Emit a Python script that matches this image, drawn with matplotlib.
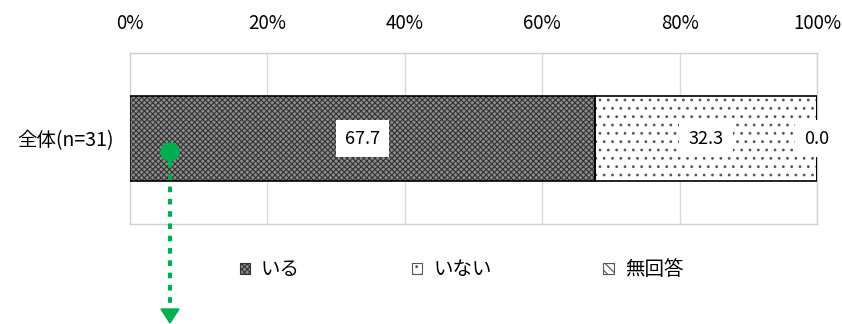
import matplotlib.pyplot as plt
from matplotlib.patches import Patch, Circle, Polygon
from matplotlib.lines import Line2D

# =========================
# DATA
# =========================

category = "全体(n=31)"
labels = ["いる", "いない", "無回答"]
values = [67.7, 32.3, 0.0]
xticks = [0, 20, 40, 60, 80, 100]

plt.rcParams["font.family"] = ["Noto Sans CJK JP", "DejaVu Sans"]
plt.rcParams["font.size"] = 13

# styles per series: (face, hatch, hatch colour)
styles = [
    ("#8c8c8c", "xxxxxx", "#333333"),
    ("white", "..", "#555555"),
    ("white", "\\\\\\\\", "#555555"),
]

# =========================
# FIGURE
# =========================

fig = plt.figure(figsize=(8.42, 3.24), dpi=100)
ax = fig.add_axes([130 / 842, 1 - 224 / 324, 687 / 842, 171 / 324])

ax.set_xlim(0, 100)
ax.set_ylim(-1, 1)

for x in xticks[1:-1]:
    ax.axvline(x, color="#d9d9d9", lw=1, zorder=0)

for s in ax.spines.values():
    s.set_color("#d0d0d0")
    s.set_linewidth(1)

# =========================
# STACKED BAR
# =========================

plt.rcParams["hatch.linewidth"] = 0.8
left = 0
for lab, val, (fc, hatch, hc) in zip(labels, values, styles):
    ax.barh(0, val, left=left, height=1.0, color=fc, hatch=hatch,
            edgecolor=hc, linewidth=0, zorder=2)
    ax.barh(0, val, left=left, height=1.0, fill=False,
            edgecolor="black", linewidth=1.2, zorder=3)
    ax.text(left + val / 2, 0, f"{val:.1f}", ha="center", va="center",
            fontsize=13, zorder=5,
            bbox=dict(boxstyle="square,pad=0.5", fc="white", ec="none"))
    left += val

# =========================
# AXES
# =========================

ax.xaxis.tick_top()
ax.set_xticks(xticks)
ax.set_xticklabels([f"{t}%" for t in xticks])
ax.tick_params(axis="x", length=0, pad=14, labelsize=13.5)
ax.set_yticks([0])
ax.set_yticklabels([category])
ax.tick_params(axis="y", length=0, pad=12, labelsize=14)

# =========================
# LEGEND
# =========================

handles = [Patch(facecolor=fc, hatch=h, edgecolor=hc, linewidth=0.8)
           for fc, h, hc in styles]
fig.legend(handles, labels, loc="center", bbox_to_anchor=(0.548, 0.167),
           ncol=3, frameon=False, handlelength=0.55, handleheight=0.55,
           handletextpad=0.55, columnspacing=5.75, fontsize=14)

# =========================
# GREEN ARROW
# =========================

green = "#00B050"
fx = 170 / 842
fig.add_artist(Line2D([fx, fx], [1 - 162 / 324, 1 - 309 / 324],
                      transform=fig.transFigure, color=green, lw=3,
                      linestyle=(0, (1.35, 1.6)), solid_capstyle="butt"))
fig.add_artist(Circle((170, 324 - 152), 9, transform=None,
                      color=green, zorder=10))
fig.add_artist(Polygon([[161, 324 - 309], [179, 324 - 309], [170, 324 - 323]],
                       closed=True, transform=None, color=green, zorder=10))

plt.savefig("out.png", dpi=100)
